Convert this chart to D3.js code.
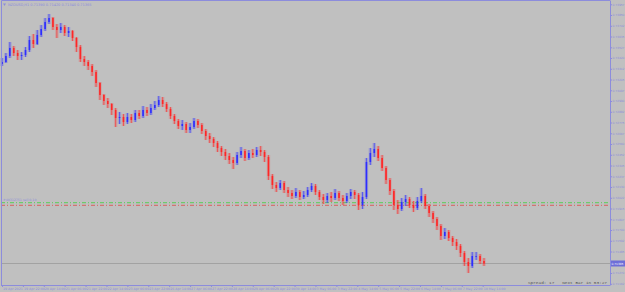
<!doctype html>
<html>
<head>
<meta charset="UTF-8">
<title>NZDUSD H1</title>
<script src="https://d3js.org/d3.v7.min.js"></script>
<style>
    body { margin: 0; background: #c0c0c0; overflow: hidden; }
    svg { display: block; }
</style>
</head>
<body>
<svg id="chart" width="625" height="292"></svg>
<script>
    // ---- data ----
    var symbol = "NZDUSD,H1";
    var hoursPerBar = 3;
    var firstOpen = 0.7336;
    var closes = [0.7338, 0.7344, 0.7352, 0.7347, 0.7344, 0.7345, 0.7350, 0.7360, 0.7356, 0.7365,
        0.7371, 0.7378, 0.7382, 0.7373, 0.7370, 0.7373, 0.7367, 0.7369, 0.7362, 0.7353,
        0.7341, 0.7338, 0.7334, 0.7328, 0.7317, 0.7305, 0.7299, 0.7296, 0.7290, 0.7282,
        0.7283, 0.7278, 0.7283, 0.7280, 0.7287, 0.7284, 0.7290, 0.7287, 0.7292, 0.7295,
        0.7300, 0.7296, 0.7291, 0.7284, 0.7279, 0.7274, 0.7276, 0.7270, 0.7273, 0.7279,
        0.7275, 0.7269, 0.7264, 0.7261, 0.7257, 0.7252, 0.7248, 0.7244, 0.7240, 0.7237,
        0.7245, 0.7249, 0.7242, 0.7247, 0.7245, 0.7250, 0.7248, 0.7243, 0.7224, 0.7215,
        0.7212, 0.7217, 0.7210, 0.7207, 0.7204, 0.7208, 0.7203, 0.7205, 0.7210, 0.7214,
        0.7208, 0.7203, 0.7200, 0.7204, 0.7202, 0.7207, 0.7202, 0.7199, 0.7204, 0.7208,
        0.7205, 0.7195, 0.7203, 0.7238, 0.7247, 0.7251, 0.7242, 0.7232, 0.7220, 0.7209,
        0.7195, 0.7191, 0.7198, 0.7201, 0.7195, 0.7192, 0.7199, 0.7204, 0.7194, 0.7187,
        0.7181, 0.7174, 0.7164, 0.7168, 0.7162, 0.7158, 0.7154, 0.7147, 0.7138, 0.7134,
        0.7144, 0.7144, 0.7139, 0.71365];
    var highs = [0.7342, 0.7347, 0.7358, 0.7354, 0.7350, 0.7348, 0.7353, 0.7364, 0.7366, 0.7370,
        0.7375, 0.7382, 0.7386, 0.7383, 0.7376, 0.7377, 0.7375, 0.7373, 0.7370, 0.7363,
        0.7355, 0.7344, 0.7340, 0.7336, 0.7330, 0.7318, 0.7306, 0.7302, 0.7297, 0.7292,
        0.7288, 0.7286, 0.7287, 0.7286, 0.7290, 0.7290, 0.7294, 0.7293, 0.7296, 0.7299,
        0.7304, 0.7303, 0.7298, 0.7293, 0.7286, 0.7281, 0.7280, 0.7278, 0.7277, 0.7282,
        0.7281, 0.7277, 0.7271, 0.7267, 0.7263, 0.7259, 0.7254, 0.7251, 0.7247, 0.7243,
        0.7248, 0.7253, 0.7251, 0.7250, 0.7251, 0.7253, 0.7254, 0.7250, 0.7245, 0.7226,
        0.7218, 0.7220, 0.7219, 0.7213, 0.7210, 0.7212, 0.7210, 0.7209, 0.7213, 0.7217,
        0.7216, 0.7210, 0.7206, 0.7207, 0.7208, 0.7211, 0.7209, 0.7205, 0.7207, 0.7211,
        0.7210, 0.7207, 0.7208, 0.7242, 0.7252, 0.7257, 0.7254, 0.7245, 0.7234, 0.7222,
        0.7211, 0.7200, 0.7202, 0.7205, 0.7203, 0.7199, 0.7203, 0.7212, 0.7206, 0.7196,
        0.7189, 0.7183, 0.7176, 0.7172, 0.7170, 0.7164, 0.7161, 0.7156, 0.7149, 0.7142,
        0.7148, 0.7148, 0.7146, 0.7142];
    var lows = [0.7334, 0.7337, 0.7342, 0.7344, 0.7340, 0.7340, 0.7343, 0.7348, 0.7352, 0.7355,
        0.7363, 0.7369, 0.7376, 0.7370, 0.7362, 0.7367, 0.7364, 0.7363, 0.7359, 0.7348,
        0.7338, 0.7334, 0.7330, 0.7324, 0.7313, 0.7300, 0.7295, 0.7292, 0.7285, 0.7273,
        0.7276, 0.7274, 0.7276, 0.7277, 0.7278, 0.7281, 0.7282, 0.7284, 0.7285, 0.7290,
        0.7293, 0.7293, 0.7288, 0.7281, 0.7276, 0.7271, 0.7270, 0.7267, 0.7267, 0.7271,
        0.7272, 0.7266, 0.7260, 0.7257, 0.7253, 0.7248, 0.7244, 0.7240, 0.7236, 0.7231,
        0.7235, 0.7242, 0.7239, 0.7240, 0.7242, 0.7243, 0.7244, 0.7238, 0.7220, 0.7211,
        0.7208, 0.7210, 0.7207, 0.7203, 0.7201, 0.7202, 0.7200, 0.7201, 0.7203, 0.7208,
        0.7205, 0.7200, 0.7196, 0.7197, 0.7198, 0.7200, 0.7199, 0.7195, 0.7197, 0.7201,
        0.7201, 0.7190, 0.7191, 0.7201, 0.7235, 0.7243, 0.7239, 0.7229, 0.7216, 0.7205,
        0.7190, 0.7186, 0.7189, 0.7194, 0.7192, 0.7188, 0.7190, 0.7197, 0.7191, 0.7183,
        0.7177, 0.7170, 0.7160, 0.7161, 0.7159, 0.7154, 0.7150, 0.7143, 0.7134, 0.7127,
        0.7132, 0.7140, 0.7136, 0.7134];

    var labelEveryHours = 16;
    var timeLabels = ["19 Apr 2021", "19 Apr 22:00", "20 Apr 14:00", "21 Apr 06:00", "21 Apr 22:00",
        "22 Apr 14:00", "23 Apr 06:00", "23 Apr 22:00", "26 Apr 14:00", "27 Apr 06:00",
        "27 Apr 22:00", "28 Apr 14:00", "29 Apr 06:00", "29 Apr 22:00", "30 Apr 14:00",
        "3 May 06:00", "3 May 22:00", "4 May 14:00", "5 May 06:00", "5 May 22:00",
        "6 May 14:00", "7 May 06:00", "7 May 22:00", "10 May 14:00"];
    var priceTicks = [0.73957, 0.73850, 0.73742, 0.73635, 0.73527, 0.73420, 0.73312, 0.73205, 0.73097,
        0.72990, 0.72882, 0.72775, 0.72667, 0.72560, 0.72452, 0.72345, 0.72237, 0.72130, 0.72022,
        0.71915, 0.71807, 0.71700, 0.71592, 0.71485, 0.71377, 0.71270, 0.71162];
    var bidPrice = 0.71365;
    var orderPrice = 0.71973;   // green dash-dot
    var stopPrice = 0.71947;    // red dash-dot
    var orderText = "#40312751 sell 0.10";
    var spreadText = "Spread: 17   Next Bar in 53:27";

    // ---- layout ----
    var W = 625, H = 292;
    var left = 1, right = 610, top = 1, bottom = 285;
    var axisColor = "#8c8cdc";

    var bars = closes.map(function (c, i) {
        return {
            i: i,
            open: i === 0 ? firstOpen : closes[i - 1],
            high: highs[i],
            low: lows[i],
            close: c
        };
    });

    var x = d3.scaleLinear()
        .domain([0, (closes.length - 1) * hoursPerBar])
        .range([2, 484]);
    var y = d3.scaleLinear()
        .domain([0.7115, 0.7400])
        .range([bottom, 0]);

    var svg = d3.select("#chart");

    svg.append("rect").attr("width", W).attr("height", H).attr("fill", "#c0c0c0");

    var plot = svg.append("g").attr("class", "plot");

    // order lines
    plot.append("line")
        .attr("x1", left).attr("x2", right)
        .attr("y1", y(orderPrice)).attr("y2", y(orderPrice))
        .attr("stroke", "#3fcf3f").attr("stroke-width", 0.8)
        .attr("stroke-dasharray", "4,2,1,2");
    plot.append("line")
        .attr("x1", left).attr("x2", right)
        .attr("y1", y(stopPrice)).attr("y2", y(stopPrice))
        .attr("stroke", "#e04848").attr("stroke-width", 0.8)
        .attr("stroke-dasharray", "4,2,1,2");
    plot.append("text")
        .attr("x", 3).attr("y", y(orderPrice) - 1.5)
        .attr("font-family", "DejaVu Sans").attr("font-size", 3.2)
        .attr("fill", axisColor).text(orderText);

    // bid line
    plot.append("line")
        .attr("x1", left).attr("x2", right)
        .attr("y1", y(bidPrice)).attr("y2", y(bidPrice))
        .attr("stroke", "#9a9a9a").attr("stroke-width", 0.8);

    function col(d) { return d.close >= d.open ? "#2d2dff" : "#ff2626"; }

    // soft halo, then wick, then body
    plot.selectAll("line.halo").data(bars).enter().append("line")
        .attr("class", "halo")
        .attr("x1", function (d) { return x(d.i * hoursPerBar); })
        .attr("x2", function (d) { return x(d.i * hoursPerBar); })
        .attr("y1", function (d) { return y(d.high); })
        .attr("y2", function (d) { return y(d.low); })
        .attr("stroke", col).attr("stroke-width", 3.4).attr("opacity", 0.2);

    plot.selectAll("line.wick").data(bars).enter().append("line")
        .attr("class", "wick")
        .attr("x1", function (d) { return x(d.i * hoursPerBar); })
        .attr("x2", function (d) { return x(d.i * hoursPerBar); })
        .attr("y1", function (d) { return y(d.high); })
        .attr("y2", function (d) { return y(d.low); })
        .attr("stroke", col).attr("stroke-width", 1).attr("opacity", 0.6);

    plot.selectAll("rect.body").data(bars).enter().append("rect")
        .attr("class", "body")
        .attr("x", function (d) { return x(d.i * hoursPerBar) - 0.8; })
        .attr("width", 1.6)
        .attr("y", function (d) { return y(Math.max(d.open, d.close)); })
        .attr("height", function (d) { return Math.max(0.8, Math.abs(y(d.open) - y(d.close))); })
        .attr("fill", col);

    // frame
    svg.append("path")
        .attr("d", "M" + (left + 0.5) + "," + bottom + "V0.5H" + right)
        .attr("fill", "none").attr("stroke", axisColor).attr("stroke-width", 1);

    // price axis
    var yAxis = d3.axisRight(y)
        .tickValues(priceTicks)
        .tickSize(2).tickSizeOuter(0).tickPadding(0.5)
        .tickFormat(d3.format(".5f"));
    var gy = svg.append("g").attr("transform", "translate(" + right + ",0)").call(yAxis);
    gy.select(".domain").attr("stroke", axisColor);
    gy.selectAll(".tick line").attr("stroke", axisColor);
    gy.selectAll(".tick text").attr("fill", axisColor)
        .attr("font-family", "DejaVu Sans").attr("font-size", 2.9);

    // time axis
    var timeTicks = timeLabels.map(function (t, k) { return k * labelEveryHours; });
    var xAxis = d3.axisBottom(x)
        .tickValues(timeTicks)
        .tickSize(2).tickSizeOuter(0).tickPadding(0.5)
        .tickFormat(function (d, k) { return timeLabels[k]; });
    var gx = svg.append("g").attr("transform", "translate(0," + bottom + ")").call(xAxis);
    gx.select(".domain").remove();
    gx.selectAll(".tick line").attr("stroke", axisColor);
    gx.selectAll(".tick text").attr("fill", axisColor)
        .attr("text-anchor", "start").attr("x", 0.5)
        .attr("font-family", "DejaVu Sans").attr("font-size", 3.2);
    svg.append("line")
        .attr("x1", left).attr("x2", right)
        .attr("y1", bottom + 0.5).attr("y2", bottom + 0.5)
        .attr("stroke", axisColor);

    // bid price box
    svg.append("rect")
        .attr("x", right + 1).attr("y", y(bidPrice) - 3)
        .attr("width", W - right).attr("height", 6)
        .attr("fill", "#6e6ed8");
    svg.append("text")
        .attr("x", right + 1.5).attr("y", y(bidPrice) + 1.1)
        .attr("font-family", "DejaVu Sans").attr("font-size", 2.9)
        .attr("fill", "#ffffff").text(d3.format(".5f")(bidPrice));

    // header
    var last = bars[bars.length - 1];
    var f5 = d3.format(".5f");
    svg.append("path")
        .attr("d", "M3,3.5L6,3.5L4.5,6Z").attr("fill", axisColor);
    svg.append("text")
        .attr("x", 8).attr("y", 6)
        .attr("font-family", "DejaVu Sans").attr("font-size", 3.5)
        .attr("fill", axisColor)
        .text(symbol + "  " + f5(last.open) + " " + f5(last.high) + " " + f5(last.low) + " " + f5(last.close));

    // spread / timer
    svg.append("text")
        .attr("x", 607).attr("y", 284)
        .attr("text-anchor", "end")
        .attr("font-family", "Liberation Mono").attr("font-size", 4.4)
        .attr("fill", "#555555")
        .style("white-space", "pre")
        .text(spreadText);
</script>
</body>
</html>
